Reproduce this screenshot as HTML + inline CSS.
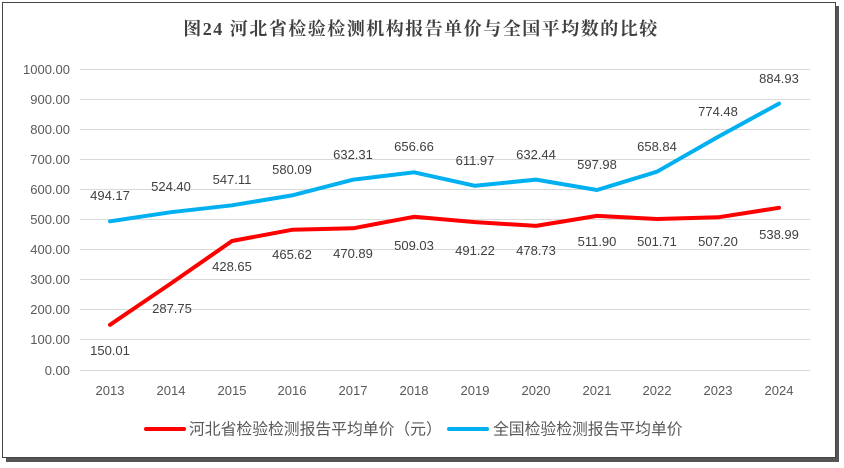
<!DOCTYPE html>
<html><head><meta charset="utf-8"><style>
html,body{margin:0;padding:0;background:#fff;}
svg{display:block;}
</style></head><body>
<svg width="844" height="468" viewBox="0 0 844 468" xmlns="http://www.w3.org/2000/svg">
<rect x="6" y="6" width="833" height="456" fill="#555"/>
<rect x="2.5" y="2.5" width="833" height="455" fill="#fff" stroke="#444" stroke-width="1"/>
<text x="421" y="35" text-anchor="middle" font-family="'Liberation Serif','Noto Serif CJK SC',serif" font-weight="bold" font-size="18" letter-spacing="1.5" fill="#404040">图24  河北省检验检测机构报告单价与全国平均数的比较</text>
<g stroke="#d9d9d9" stroke-width="1">
<line x1="80" x2="810" y1="69.5" y2="69.5"/><line x1="80" x2="810" y1="99.5" y2="99.5"/>
<line x1="80" x2="810" y1="129.5" y2="129.5"/><line x1="80" x2="810" y1="159.5" y2="159.5"/>
<line x1="80" x2="810" y1="189.5" y2="189.5"/><line x1="80" x2="810" y1="219.5" y2="219.5"/>
<line x1="80" x2="810" y1="249.5" y2="249.5"/><line x1="80" x2="810" y1="279.5" y2="279.5"/>
<line x1="80" x2="810" y1="309.5" y2="309.5"/><line x1="80" x2="810" y1="339.5" y2="339.5"/>
<line x1="80" x2="810" y1="370.5" y2="370.5"/>
</g>
<g font-family="'Liberation Sans',sans-serif" font-size="13" fill="#595959" text-anchor="end">
<text x="70" y="74">1000.00</text><text x="70" y="104">900.00</text><text x="70" y="134">800.00</text>
<text x="70" y="164">700.00</text><text x="70" y="194">600.00</text><text x="70" y="224">500.00</text>
<text x="70" y="254">400.00</text><text x="70" y="284">300.00</text><text x="70" y="314">200.00</text>
<text x="70" y="344">100.00</text><text x="70" y="375">0.00</text>
</g>
<g font-family="'Liberation Sans',sans-serif" font-size="13" fill="#595959" text-anchor="middle">
<text x="110" y="395">2013</text><text x="171" y="395">2014</text><text x="232" y="395">2015</text>
<text x="292" y="395">2016</text><text x="353" y="395">2017</text><text x="414" y="395">2018</text>
<text x="475" y="395">2019</text><text x="536" y="395">2020</text><text x="597" y="395">2021</text>
<text x="657" y="395">2022</text><text x="718" y="395">2023</text><text x="779" y="395">2024</text>
</g>
<polyline fill="none" stroke="#00b0f0" stroke-width="4" stroke-linejoin="round" stroke-linecap="round"
points="110,221.3 171,212.2 232,205.3 292,195.4 353,179.7 414,172.3 475,185.8 536,179.6 597,190 657,171.7 718,136.9 779,103.6"/>
<polyline fill="none" stroke="#ff0000" stroke-width="4" stroke-linejoin="round" stroke-linecap="round"
points="110,324.8 171,283.4 232,241 292,229.8 353,228.3 414,216.8 475,222.1 536,225.9 597,215.9 657,219 718,217.3 779,207.8"/>
<g font-family="'Liberation Sans',sans-serif" font-size="13" fill="#404040" text-anchor="middle">
<text x="110" y="200">494.17</text><text x="171" y="191">524.40</text><text x="232" y="184">547.11</text>
<text x="292" y="174">580.09</text><text x="353" y="159">632.31</text><text x="414" y="151">656.66</text>
<text x="475" y="165">611.97</text><text x="536" y="159">632.44</text><text x="597" y="169">597.98</text>
<text x="657" y="151">658.84</text><text x="718" y="116">774.48</text><text x="779" y="83">884.93</text>
<text x="110" y="355">150.01</text><text x="172" y="313">287.75</text><text x="232" y="271">428.65</text>
<text x="292" y="259">465.62</text><text x="353" y="258">470.89</text><text x="414" y="250">509.03</text>
<text x="475" y="255">491.22</text><text x="536" y="255">478.73</text><text x="597" y="246">511.90</text>
<text x="657" y="246">501.71</text><text x="718" y="246">507.20</text><text x="779" y="239">538.99</text>
</g>
<line x1="146" x2="184" y1="429" y2="429" stroke="#ff0000" stroke-width="4" stroke-linecap="round"/>
<text x="189" y="434.5" font-family="'Liberation Sans','Noto Sans CJK SC',sans-serif" font-size="15.8" fill="#595959">河北省检验检测报告平均单价（元）</text>
<line x1="449" x2="487" y1="429" y2="429" stroke="#00b0f0" stroke-width="4" stroke-linecap="round"/>
<text x="493" y="434.5" font-family="'Liberation Sans','Noto Sans CJK SC',sans-serif" font-size="15.8" fill="#595959">全国检验检测报告平均单价</text>
</svg>
</body></html>
